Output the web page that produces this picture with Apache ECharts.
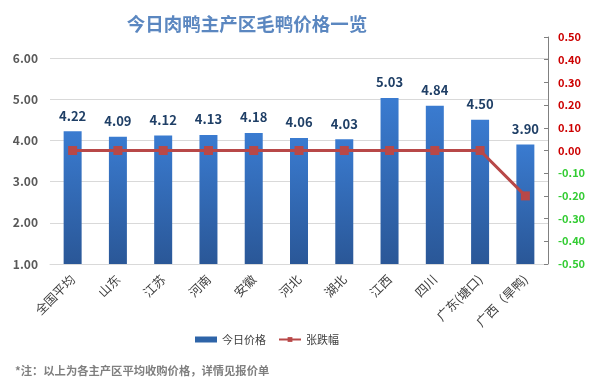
<!DOCTYPE html>
<html><head><meta charset="utf-8">
<script src="https://cdn.jsdelivr.net/npm/echarts@6/dist/echarts.min.js"></script>
<style>html,body{margin:0;padding:0;background:#fff}#c{width:592px;height:390px}</style>
</head><body><div id="c"></div>
<script>
var categories = ['全国平均','山东','江苏','河南','安徽','河北','湖北','江西','四川','广东(塘口)','广西（旱鸭)'];
var prices = [4.22,4.09,4.12,4.13,4.18,4.06,4.03,5.03,4.84,4.50,3.90];
var changes = [0,0,0,0,0,0,0,0,0,0,-0.20];
var titleText = '今日肉鸭主产区毛鸭价格一览';
var noteText = '*注：以上为各主产区平均收购价格，详情见报价单';
var FF = '"Noto Sans CJK SC","Noto Sans",sans-serif';
var chart = echarts.init(document.getElementById('c'));
chart.setOption({
  animation:false,
  backgroundColor:'#fff',
  title:[{text:titleText,left:242,top:10,textAlign:'center',textStyle:{color:'#5b87c0',fontSize:18.5,fontWeight:'bold',fontFamily:FF}},
         {text:noteText,left:10,top:360,textStyle:{color:'#7f7f7f',fontSize:11.3,fontWeight:'bold',fontFamily:FF}}],
  legend:{top:329,left:190,itemGap:12,textStyle:{color:'#404040',fontSize:11,fontFamily:FF},
    data:[{name:'今日价格',icon:'rect',itemStyle:{color:'#2e64a8'}},{name:'张跌幅'}],itemWidth:22,itemHeight:6},
  grid:[{left:50,right:44,top:58,height:206},{left:50,right:44,top:37,height:227}],
  xAxis:[{type:'category',data:categories,gridIndex:0,axisTick:{show:false},
          axisLine:{lineStyle:{color:'#d9d9d9'}},
          axisLabel:{rotate:45,interval:0,color:'#404040',fontSize:12.5,fontFamily:FF,margin:13}},
         {type:'category',data:categories,gridIndex:1,show:false}],
  yAxis:[{type:'value',gridIndex:0,min:1,max:6,interval:1,
          axisLabel:{formatter:function(v){return v.toFixed(2);},color:'#595959',fontSize:12,fontWeight:'bold',fontFamily:FF,margin:12},
          splitLine:{lineStyle:{color:'#d9d9d9'}},axisLine:{show:false},axisTick:{show:false}},
         {type:'value',gridIndex:1,position:'right',min:-0.5,max:0.5,interval:0.1,
          axisLabel:{formatter:function(v){return v.toFixed(2);},color:function(v){return Number(v)<0?'#33cc33':'#cc0000';},fontSize:11,fontWeight:'bold',fontFamily:FF,margin:10},
          splitLine:{show:false},axisLine:{show:true,lineStyle:{color:'#808080'}},
          axisTick:{show:true,inside:true,length:4,lineStyle:{color:'#808080'}}}],
  series:[
    {name:'今日价格',type:'bar',xAxisIndex:0,yAxisIndex:0,data:prices,barWidth:18,
     itemStyle:{color:new echarts.graphic.LinearGradient(0,0,0,1,[{offset:0,color:'#3a7bd0'},{offset:1,color:'#2a5797'}])},
     label:{show:true,position:'top',distance:9,color:'#1f3f66',fontSize:13,fontWeight:'bold',fontFamily:FF,
            formatter:function(p){return p.value.toFixed(2);}}},
    {name:'张跌幅',type:'line',xAxisIndex:1,yAxisIndex:1,data:changes,symbol:'rect',symbolSize:9,
     lineStyle:{color:'#b84848',width:3},itemStyle:{color:'#b84848'}}
  ]
});
</script></body></html>
